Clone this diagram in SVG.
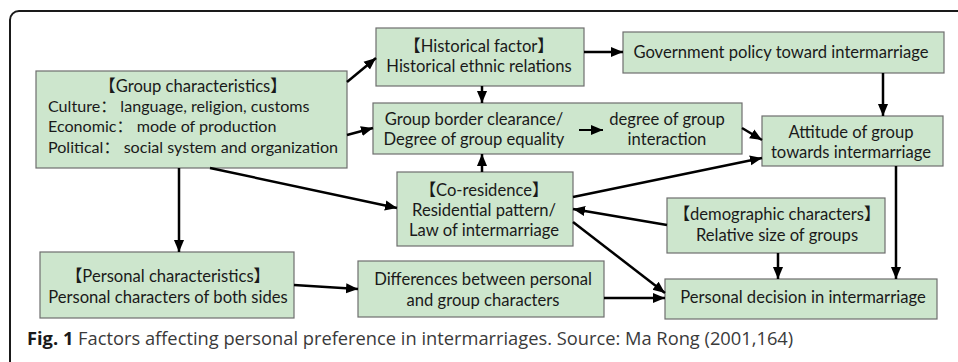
<svg xmlns="http://www.w3.org/2000/svg" width="958" height="362" viewBox="0 0 958 362">
<style>
.box{fill:#cde6cd;stroke:#6e6e6e;stroke-width:1.2}
.t{font-family:Lato,"Noto Sans CJK SC",sans-serif;font-size:16.6px;fill:#1a1a1a}
.s{font-size:16.1px}
.c{text-anchor:middle}
.conn path{fill:none;stroke:#000;stroke-width:2.5}
.cap{font-family:"Open Sans",sans-serif;font-size:18.3px;fill:#3a3a3a}
</style>
<defs>
<marker id="ah" markerUnits="userSpaceOnUse" markerWidth="12" markerHeight="12" viewBox="0 0 10 10" refX="10" refY="5" orient="auto">
<path d="M0,0.8 L10,5 L0,9.2 Z" fill="#000"/>
</marker>
</defs>
<rect x="10" y="11" width="980" height="380" rx="9" fill="#fff" stroke="#1a1a1a" stroke-width="2"/>

<g id="group-characteristics">
<rect class="box" x="36" y="71" width="311" height="97"/>
<text class="t c" x="193" y="92">【Group characteristics】</text>
<text class="t s" x="48" y="112">Culture： language, religion, customs</text>
<text class="t s" x="48" y="132">Economic： mode of production</text>
<text class="t s" x="48" y="153">Political： social system and organization</text>
</g>
<g id="historical-factor">
<rect class="box" x="376" y="28" width="208" height="58"/>
<text class="t c" x="479" y="52">【Historical factor】</text>
<text class="t c" x="479" y="72">Historical ethnic relations</text>
</g>
<g id="government-policy">
<rect class="box" x="623" y="32" width="321" height="41"/>
<text class="t c" x="781" y="58">Government policy toward intermarriage</text>
</g>
<g id="group-border">
<rect class="box" x="373" y="103" width="369" height="51"/>
<text class="t c" x="474" y="125">Group border clearance/</text>
<text class="t c" x="474" y="145">Degree of group equality</text>
<path d="M579,130 L603,130" stroke="#000" stroke-width="2" marker-end="url(#ah)"/>
<text class="t c" x="667" y="125">degree of group</text>
<text class="t c" x="667" y="145">interaction</text>
</g>
<g id="attitude">
<rect class="box" x="762" y="116" width="181" height="50"/>
<text class="t c" x="851" y="138">Attitude of group</text>
<text class="t c" x="851" y="158">towards intermarriage</text>
</g>
<g id="co-residence">
<rect class="box" x="397" y="172" width="176" height="74"/>
<text class="t c" x="484" y="196">【Co-residence】</text>
<text class="t c" x="484" y="216">Residential pattern/</text>
<text class="t c" x="484" y="236">Law of intermarriage</text>
</g>
<g id="demographic">
<rect class="box" x="667" y="198" width="218" height="55"/>
<text class="t c" x="777" y="220">【demographic characters】</text>
<text class="t c" x="777" y="241">Relative size of groups</text>
</g>
<g id="personal-characteristics">
<rect class="box" x="40" y="252" width="254" height="66"/>
<text class="t c" x="168" y="282">【Personal characteristics】</text>
<text class="t c" x="168" y="303">Personal characters of both sides</text>
</g>
<g id="differences">
<rect class="box" x="358" y="261" width="246" height="56"/>
<text class="t c" x="483" y="285">Differences between personal</text>
<text class="t c" x="483" y="306">and group characters</text>
</g>
<g id="personal-decision">
<rect class="box" x="665" y="279" width="272" height="40"/>
<text class="t c" x="803" y="303">Personal decision in intermarriage</text>
</g>

<g class="conn" id="connectors">
<path d="M347,82 L376,58" marker-end="url(#ah)"/>
<path d="M347,135 L373,128" marker-end="url(#ah)"/>
<path d="M482,86 L482,103" marker-end="url(#ah)"/>
<path d="M584,52 L623,52" marker-end="url(#ah)"/>
<path d="M883,73 L883,116" marker-end="url(#ah)"/>
<path d="M742,128 L762,140" marker-end="url(#ah)"/>
<path d="M573,197 L762,158" marker-end="url(#ah)"/>
<path d="M482,172 L482,154" marker-end="url(#ah)"/>
<path d="M210,168 L397,208" marker-end="url(#ah)"/>
<path d="M179,168 L179,252" marker-end="url(#ah)"/>
<path d="M294,285 L358,289" marker-end="url(#ah)"/>
<path d="M667,225 L573,209" marker-end="url(#ah)"/>
<path d="M573,222 L665,293" marker-end="url(#ah)"/>
<path d="M604,298 L665,298" marker-end="url(#ah)"/>
<path d="M778,253 L778,279" marker-end="url(#ah)"/>
<path d="M896,166 L896,279" marker-end="url(#ah)"/>
</g>

<text class="cap" x="27" y="345"><tspan font-weight="bold" fill="#1a1a1a">Fig. 1</tspan> Factors affecting personal preference in intermarriages. Source: Ma Rong (2001,164)</text>
</svg>
